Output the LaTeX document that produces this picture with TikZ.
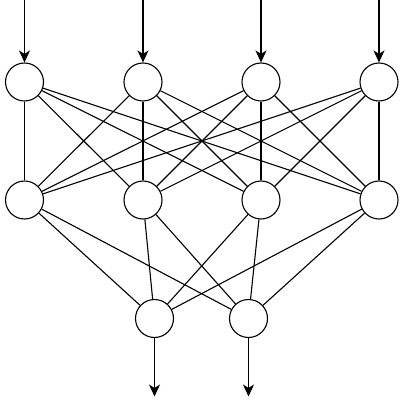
\documentclass[tikz,border=0pt]{standalone}
\usetikzlibrary{arrows.meta}

\tikzstyle{neuron}=[circle,draw,fill=white,line width=1.1pt,minimum size=38pt,inner sep=0pt]
\tikzstyle{synapse} = [draw,line width=1.1pt,-]
\tikzstyle{signal} = [draw,line width=1.1pt,-{Stealth[length=12pt,width=11pt,inset=3.5pt]}]

\begin{document}
\begin{tikzpicture}[x=1pt,y=1pt]
		\useasboundingbox (0,0) rectangle (404,402);
		% First layer
		\node[neuron] (a1) at (24.5,320) {};
		\node[neuron] (a2) at (143,320) {};
		\node[neuron] (a3) at (261,320) {};
		\node[neuron] (a4) at (379,320) {};
		% Second layer
		\node[neuron] (b1) at (24.5,202) {};
		\node[neuron] (b2) at (143,202) {};
		\node[neuron] (b3) at (261,202) {};
		\node[neuron] (b4) at (379,202) {};
		% Output layer
		\node[neuron] (c1) at (154.5,83.5) {};
		\node[neuron] (c2) at (248.5,83.5) {};
		% Input and output ends
		\foreach \n in {1,2,3,4}
			\coordinate (in\n) at ([yshift=83pt]a\n.center);
		\coordinate (out1) at ([yshift=-78pt]c1.center);
		\coordinate (out2) at ([yshift=-78pt]c2.center);
   		 % Connect neurons with synapses
		\foreach \source in {1,2,3,4}
			\foreach \dest in {1,2,3,4}
				\path[synapse] (a\source) -- (b\dest);
		\foreach \source in {1,2,3,4}
			\foreach \dest in {1,2}
				\path[synapse] (b\source) -- (c\dest);
		\foreach \n in {1,2,3,4}
			\path[signal] (in\n) -- (a\n);
		\foreach \n in {1,2}
			\path[signal] (c\n) -- (out\n);
\end{tikzpicture}
\end{document}
